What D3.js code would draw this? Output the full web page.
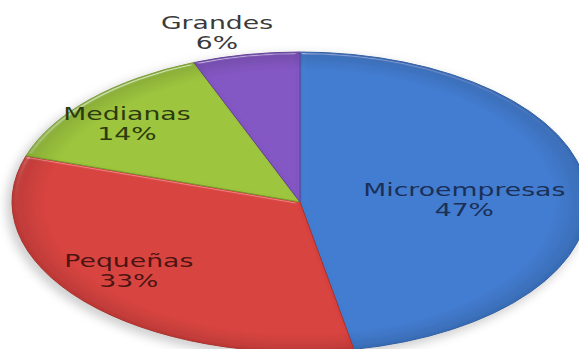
<!DOCTYPE html>
<html>
<head>
<meta charset="utf-8">
<script src="https://cdn.jsdelivr.net/npm/d3@7"></script>
<style>
  html, body { margin: 0; padding: 0; background: #ffffff; }
  svg { display: block; }
</style>
</head>
<body>
<svg id="chart" width="579" height="349"></svg>
<script>
// Company size distribution
const categories = ["Microempresas", "Pequeñas", "Medianas", "Grandes"];
const shares = [47, 33, 14, 6];
const shareLabels = ["47%", "33%", "14%", "6%"];
const sliceColors = ["#407BD0", "#D8413D", "#9CC43B", "#8355C3"];
const textColors = ["#1B2F57", "#4E1412", "#2C3A0E", "#3A3A3A"];

const width = 579, height = 349;
const cx = 300, cy = 202;      // pie centre
const rx = 288, ry = 150;      // tilted (elliptical) pie radii
const squash = ry / rx;
const textStretch = 1.57;

const svg = d3.select("#chart");
const defs = svg.append("defs");

// soft drop shadow under the pie
const sh = defs.append("filter").attr("id", "shadow")
  .attr("x", "-20%").attr("y", "-20%").attr("width", "140%").attr("height", "140%");
sh.append("feGaussianBlur").attr("stdDeviation", 5);

// bevel-like lighting on each slice: highlights only where the rounded edge tilts
const bevel = defs.append("filter").attr("id", "bevel")
  .attr("x", "-5%").attr("y", "-5%").attr("width", "110%").attr("height", "110%");
bevel.append("feGaussianBlur").attr("in", "SourceAlpha").attr("stdDeviation", 2.5).attr("result", "blur");
const spec = bevel.append("feSpecularLighting")
  .attr("in", "blur").attr("surfaceScale", 3).attr("specularConstant", 0.8)
  .attr("specularExponent", 40).attr("lighting-color", "#ffffff").attr("result", "spec");
spec.append("feDistantLight").attr("azimuth", 260).attr("elevation", 30);
bevel.append("feComposite").attr("in", "spec").attr("in2", "SourceAlpha")
  .attr("operator", "in").attr("result", "specIn");
bevel.append("feComposite").attr("in", "SourceGraphic").attr("in2", "specIn")
  .attr("operator", "arithmetic").attr("k1", 0).attr("k2", 1).attr("k3", 0.45).attr("k4", 0);

// radial shading per slice: slightly darker toward the rim
sliceColors.forEach((c, i) => {
  const g = defs.append("radialGradient").attr("id", "shade" + i)
    .attr("gradientUnits", "userSpaceOnUse")
    .attr("cx", 0).attr("cy", 0).attr("r", rx);
  g.append("stop").attr("offset", "0%").attr("stop-color", c);
  g.append("stop").attr("offset", "88%").attr("stop-color", c);
  g.append("stop").attr("offset", "100%").attr("stop-color", d3.color(c).darker(0.4));
});

const pie = d3.pie().sort(null).value(d => d)(shares);
const arc = d3.arc().innerRadius(0).outerRadius(rx);

svg.append("ellipse")
  .attr("cx", cx - 4).attr("cy", cy + 4)
  .attr("rx", rx + 2).attr("ry", ry + 2)
  .attr("fill", "#9a9a9a").attr("opacity", 0.45)
  .attr("filter", "url(#shadow)");

const pieG = svg.append("g")
  .attr("transform", `translate(${cx},${cy}) scale(1,${squash})`);

pieG.selectAll("path.slice")
  .data(pie)
  .join("path")
  .attr("class", "slice")
  .attr("d", arc)
  .attr("fill", (d, i) => `url(#shade${i})`)
  .attr("stroke", (d, i) => d3.color(sliceColors[i]).darker(0.7))
  .attr("stroke-width", 1)
  .attr("vector-effect", "non-scaling-stroke")
  .attr("filter", "url(#bevel)");

// label placement: radius as a fraction of the pie radius, plus a small nudge
const labelRadius = [0.58, 0.76, 0.81, 1.13];
const labelNudge = [[-2, 5], [-7, -7], [-3, 4], [-22, -4]];

const labels = svg.selectAll("g.label")
  .data(pie)
  .join("g")
  .attr("class", "label")
  .attr("transform", (d, i) => {
    const a = (d.startAngle + d.endAngle) / 2;
    const r = rx * labelRadius[i];
    const x = cx + r * Math.sin(a) + labelNudge[i][0];
    const y = cy - r * Math.cos(a) * squash + labelNudge[i][1];
    return `translate(${x},${y}) scale(${textStretch},1)`;
  });

labels.append("text")
  .attr("y", -3)
  .attr("text-anchor", "middle")
  .attr("font-family", "DejaVu Sans, Verdana, sans-serif")
  .attr("font-size", 17)
  .attr("fill", (d, i) => textColors[i])
  .text((d, i) => categories[i]);

labels.append("text")
  .attr("y", 17)
  .attr("text-anchor", "middle")
  .attr("font-family", "DejaVu Sans, Verdana, sans-serif")
  .attr("font-size", 17)
  .attr("fill", (d, i) => textColors[i])
  .text((d, i) => shareLabels[i]);
</script>
</body>
</html>
